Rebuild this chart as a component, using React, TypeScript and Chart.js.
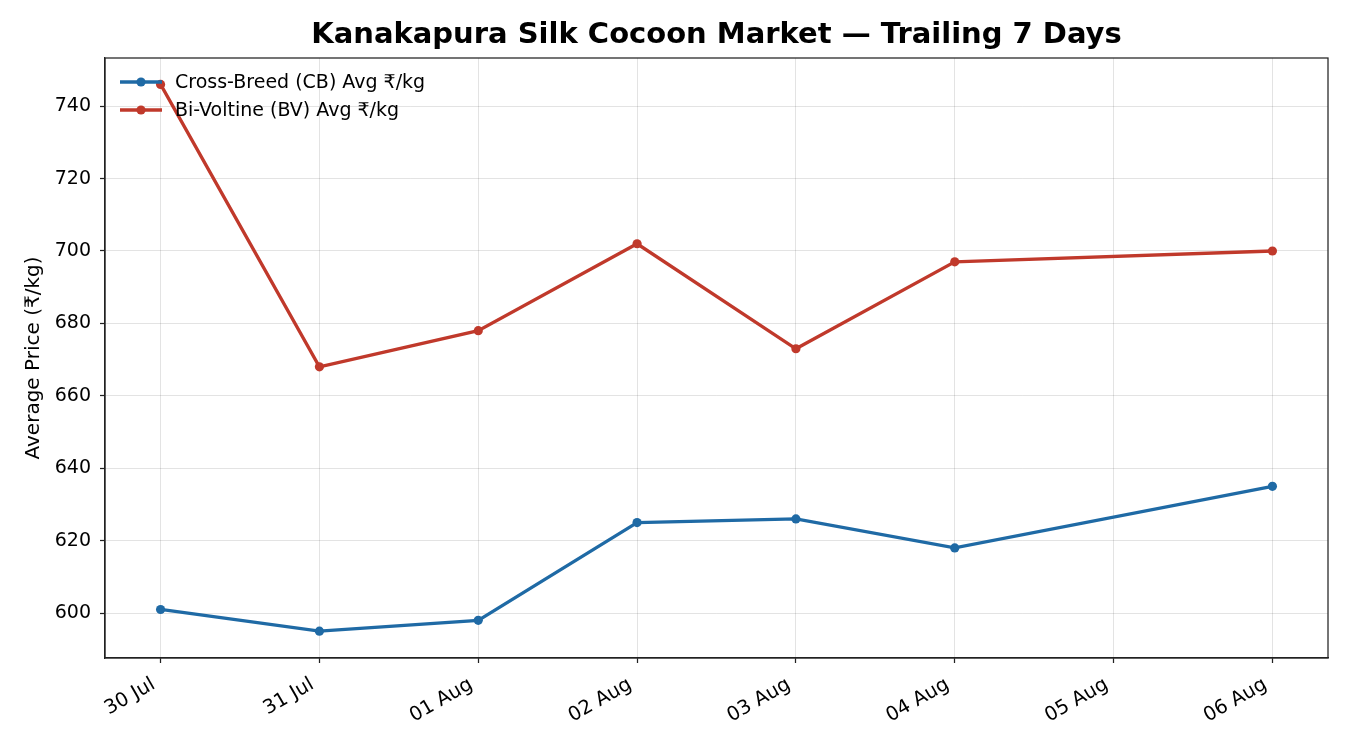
import React, { useEffect, useRef } from "react";
import { Chart, registerables } from "chart.js";

Chart.register(...registerables);

const categories = ["30 Jul", "31 Jul", "01 Aug", "02 Aug", "03 Aug", "04 Aug", "05 Aug", "06 Aug"];
const cbValues: (number | null)[] = [601, 595, 598, 625, 626, 618, null, 635];
const bvValues: (number | null)[] = [746, 668, 678, 702, 673, 697, null, 700];
const yTicks = [600, 620, 640, 660, 680, 700, 720, 740];
const seriesNames = ["Cross-Breed (CB) Avg ₹/kg", "Bi-Voltine (BV) Avg ₹/kg"];
const titleText = "Kanakapura Silk Cocoon Market — Trailing 7 Days";
const yTitle = "Average Price (₹/kg)";

const BLUE = "#1f6aa5";
const RED = "#c0392b";
const FONT = "'DejaVu Sans', sans-serif";

const toPoints = (vals: (number | null)[]) =>
  vals
    .map((v, i) => (v === null ? null : { x: i, y: v }))
    .filter((p) => p !== null) as { x: number; y: number }[];

export default function App() {
  const ref = useRef<HTMLCanvasElement | null>(null);

  useEffect(() => {
    document.body.style.margin = "0";
    const canvas = ref.current;
    if (!canvas) return;

    const framePlugin = {
      id: "frameAndExtras",
      afterDraw(chart: any) {
        const { ctx, chartArea } = chart;
        ctx.save();
        // full box
        ctx.strokeStyle = "#222";
        ctx.lineWidth = 1.25;
        ctx.strokeRect(chartArea.left, chartArea.top, chartArea.right - chartArea.left, chartArea.bottom - chartArea.top);
        // title
        ctx.fillStyle = "#000";
        ctx.font = `bold 29px ${FONT}`;
        ctx.textAlign = "center";
        ctx.textBaseline = "middle";
        ctx.fillText(titleText, (chartArea.left + chartArea.right) / 2, 35);
        // legend
        const colors = [BLUE, RED];
        ctx.font = `19px ${FONT}`;
        ctx.textAlign = "left";
        colors.forEach((c, i) => {
          const y = 82 + i * 28;
          ctx.strokeStyle = c;
          ctx.lineWidth = 3.3;
          ctx.beginPath();
          ctx.moveTo(120, y);
          ctx.lineTo(162, y);
          ctx.stroke();
          ctx.fillStyle = c;
          ctx.beginPath();
          ctx.arc(141, y, 4.6, 0, Math.PI * 2);
          ctx.fill();
          ctx.fillStyle = "#000";
          ctx.fillText(seriesNames[i], 175, y + 1);
        });
        ctx.restore();
      },
    };

    const chart = new Chart(canvas, {
      type: "line",
      data: {
        datasets: [
          {
            label: seriesNames[0],
            data: toPoints(cbValues),
            borderColor: BLUE,
            backgroundColor: BLUE,
            borderWidth: 3.3,
            pointRadius: 4.6,
            pointBorderWidth: 0,
            tension: 0,
          },
          {
            label: seriesNames[1],
            data: toPoints(bvValues),
            borderColor: RED,
            backgroundColor: RED,
            borderWidth: 3.3,
            pointRadius: 4.6,
            pointBorderWidth: 0,
            tension: 0,
          },
        ],
      },
      options: {
        responsive: false,
        animation: false,
        layout: { padding: { left: 0, right: 22, top: 58, bottom: 0 } },
        plugins: {
          legend: { display: false },
          title: { display: false },
          tooltip: { enabled: false },
        },
        scales: {
          x: {
            type: "linear",
            min: -0.35,
            max: 7.35,
            afterFit: (s: any) => {
              s.height = 92;
            },
            afterBuildTicks: (s: any) => {
              s.ticks = categories.map((_, i) => ({ value: i }));
            },
            ticks: {
              autoSkip: false,
              maxRotation: 30,
              minRotation: 30,
              padding: 10,
              labelOffset: -7,
              color: "#000",
              font: { family: FONT, size: 19.5 },
              callback: (v: any) => categories[Number(v)] ?? "",
            },
            grid: {
              color: "rgba(0,0,0,0.11)",
              lineWidth: 1,
              tickColor: "#222",
              tickLength: 5,
              tickWidth: 1.25,
            },
            border: { color: "#222", width: 1.25 },
          },
          y: {
            type: "linear",
            min: 587.6,
            max: 753.3,
            afterFit: (s: any) => {
              s.width = 105;
            },
            afterBuildTicks: (s: any) => {
              s.ticks = yTicks.map((v) => ({ value: v }));
            },
            title: {
              display: true,
              text: yTitle,
              color: "#000",
              font: { family: FONT, size: 20 },
              padding: { top: 22, bottom: 6 },
            },
            ticks: {
              color: "#000",
              padding: 9,
              font: { family: FONT, size: 19 },
              callback: (v: any) => String(v),
            },
            grid: {
              color: "rgba(0,0,0,0.11)",
              lineWidth: 1,
              tickColor: "#222",
              tickLength: 5,
              tickWidth: 1.25,
            },
            border: { color: "#222", width: 1.25 },
          },
        },
      },
      plugins: [framePlugin],
    } as any);

    return () => chart.destroy();
  }, []);

  return (
    <div style={{ width: 1350, height: 750, background: "#fff" }}>
      <canvas ref={ref} width={1350} height={750} style={{ display: "block" }} />
    </div>
  );
}
